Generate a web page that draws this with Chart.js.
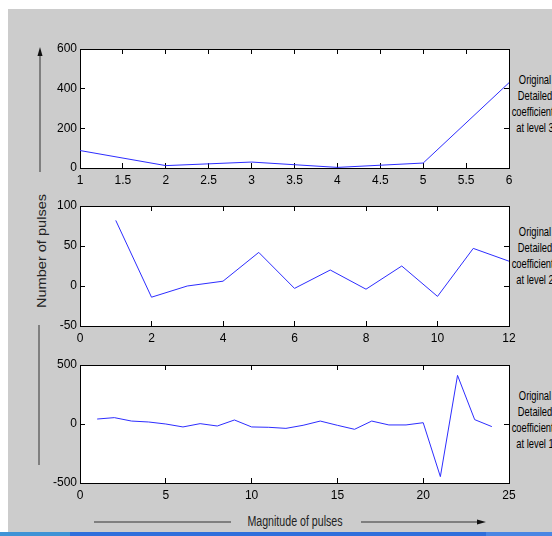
<!DOCTYPE html>
<html>
<head>
<meta charset="utf-8">
<script src="https://cdn.jsdelivr.net/npm/chart.js@4.4.0/dist/chart.umd.min.js"></script>
<style>
  html, body { margin: 0; padding: 0; background: #fff; overflow: hidden; }
  #page { position: relative; width: 552px; height: 536px; overflow: hidden; }
  #frame { position: absolute; left: 8px; top: 9px; width: 544px; height: 523px; background: #cccccc; }
  #taskbar { position: absolute; left: 0; top: 532px; width: 552px; height: 4px;
    background: linear-gradient(to right, #3f93d6 0, #3f93d6 70px, #2f6fdc 70px, #2f6fdc 486px, #4a86e4 486px); }
  canvas { position: absolute; left: 0; top: 0; }
  .side { position: absolute; left: 495px; width: 80px; text-align: center;
    transform: scaleX(0.72); transform-origin: 40px 0;
    font-family: 'Liberation Sans', Arial, sans-serif;
    font-size: 13px; line-height: 16px; color: #000; }
  #ylab { position: absolute; left: 41px; top: 251px; transform: translate(-50%, -50%) rotate(-90deg) scaleX(1.12);
    font-family: 'Liberation Sans', Arial, sans-serif; font-size: 13px; color: #222; white-space: nowrap; }
  #xlab { position: absolute; left: 295px; top: 521px; transform: translate(-50%, -50%) scaleX(0.76);
    font-family: 'Liberation Sans', Arial, sans-serif; font-size: 14px; color: #222; white-space: nowrap; }
  svg { position: absolute; left: 0; top: 0; }
</style>
</head>
<body>
<div id="page">
  <div id="frame"></div>
  <div id="taskbar"></div>
  <svg width="552" height="536">
    <line x1="40" y1="172" x2="40" y2="54" stroke="#333" stroke-width="1"/>
    <polygon points="40,47 37.5,56 42.5,56" fill="#111"/>
    <line x1="39" y1="325" x2="39" y2="465" stroke="#333" stroke-width="1"/>
    <line x1="94" y1="522" x2="231" y2="522" stroke="#333" stroke-width="1"/>
    <line x1="361" y1="522" x2="478" y2="522" stroke="#333" stroke-width="1"/>
    <polygon points="486,522 477,519.5 477,524.5" fill="#111"/>
  </svg>
  <div id="ylab">Number of pulses</div>
  <div id="xlab">Magnitude of pulses</div>
  <div class="side" style="top:72px">Original<br>Detailed<br>coefficients<br>at level 3</div>
  <div class="side" style="top:224px">Original<br>Detailed<br>coefficients<br>at level 2</div>
  <div class="side" style="top:388px">Original<br>Detailed<br>coefficients<br>at level 1</div>
  <canvas id="c3" width="552" height="536"></canvas>
  <canvas id="c2" width="552" height="536"></canvas>
  <canvas id="c1" width="552" height="536"></canvas>
</div>
<script>
// detail coefficients
const level3X = [1, 2, 3, 4, 5, 6];
const level3Y = [88, 12, 30, 3, 25, 430];

const level2X = [1, 2, 3, 4, 5, 6, 7, 8, 9, 10, 11, 12];
const level2Y = [82, -14, 0, 6, 42, -3, 20, -4, 25, -13, 47, 31];

const level1X = [1, 2, 3, 4, 5, 6, 7, 8, 9, 10, 11, 12, 13, 14, 15, 16, 17, 18, 19, 20, 21, 22, 23, 24];
const level1Y = [42, 54, 25, 17, 0, -25, 3, -17, 34, -25, -28, -37, -11, 25, -11, -45, 25, -8, -8, 11, -446, 412, 37, -22];

// axis ranges and tick steps
const level3Xaxis = { min: 1, max: 6, step: 0.5 };
const level3Yaxis = { min: 0, max: 600, step: 200 };
const level2Xaxis = { min: 0, max: 12, step: 2 };
const level2Yaxis = { min: -50, max: 100, step: 50 };
const level1Xaxis = { min: 0, max: 25, step: 5 };
const level1Yaxis = { min: -500, max: 500, step: 500 };

const tickFont = { family: "'Liberation Sans', Arial, sans-serif", size: 12 };

const AXIS_W = 40;   // room for the y tick labels
const AXIS_H = 22;   // room for the x tick labels

// white plot box behind the line
const whiteBox = {
  id: 'whiteBox',
  beforeDraw(chart) {
    const a = chart.chartArea;
    const ctx = chart.ctx;
    ctx.save();
    ctx.fillStyle = '#fff';
    ctx.fillRect(a.left, a.top, a.right - a.left, a.bottom - a.top);
    ctx.restore();
  }
};

function axis(range, pos, showLabels) {
  const horiz = pos === 'bottom' || pos === 'top';
  return {
    type: 'linear',
    position: pos,
    min: range.min,
    max: range.max,
    ticks: {
      display: showLabels,
      stepSize: range.step,
      color: '#000',
      font: tickFont,
      padding: horiz ? 10 : 8,
      maxRotation: 0,
      autoSkip: false,
      callback: v => String(v)
    },
    grid: { drawOnChartArea: false, tickLength: -5, color: '#000', lineWidth: 1 },
    border: { color: '#000', width: 1 },
    afterFit: s => {
      if (horiz) s.height = showLabels ? AXIS_H : 0;
      else s.width = showLabels ? AXIS_W : 0;
    }
  };
}

function makeChart(id, xs, ys, xr, yr, top, bottom) {
  const ctx = document.getElementById(id);
  return new Chart(ctx, {
    type: 'line',
    data: {
      datasets: [{
        data: xs.map((x, i) => ({ x: x, y: ys[i] })),
        borderColor: 'rgb(45,45,255)',
        borderWidth: 1,
        pointRadius: 0,
        tension: 0,
        fill: false
      }]
    },
    options: {
      responsive: false,
      animation: false,
      events: [],
      layout: { padding: { left: 80 - AXIS_W, right: 43, top: top, bottom: 536 - bottom - AXIS_H } },
      plugins: { legend: { display: false }, tooltip: { enabled: false } },
      scales: {
        x: axis(xr, 'bottom', true),
        y: axis(yr, 'left', true),
        x2: axis(xr, 'top', false),
        y2: axis(yr, 'right', false)
      }
    },
    plugins: [whiteBox]
  });
}

makeChart('c1', level3X, level3Y, level3Xaxis, level3Yaxis, 49, 168);
makeChart('c2', level2X, level2Y, level2Xaxis, level2Yaxis, 206, 326);
makeChart('c3', level1X, level1Y, level1Xaxis, level1Yaxis, 365, 483);
</script>
</body>
</html>
